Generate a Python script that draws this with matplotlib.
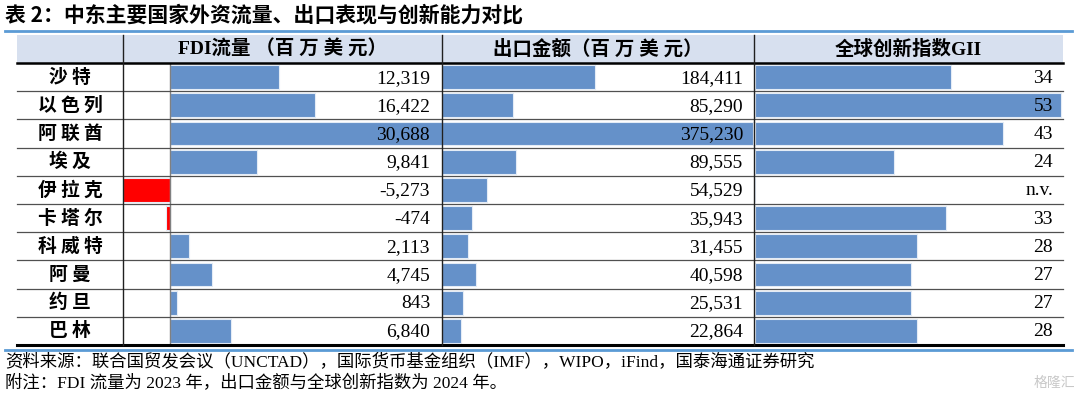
import numpy as np
import matplotlib.pyplot as plt

countries = ['沙特', '以色列', '阿联酋', '埃及', '伊拉克', '卡塔尔', '科威特', '阿曼', '约旦', '巴林']
fdi = [12319, 16422, 30688, 9841, -5273, -474, 2113, 4745, 843, 6840]
exports = [184411, 85290, 375230, 89555, 54529, 35943, 31455, 40598, 25531, 22864]
gii = [34, 53, 43, 24, None, 33, 28, 27, 27, 28]
headers = ['FDI流量 （百 万 美 元）', '出口金额（百 万 美 元）', '全球创新指数GII']

title = '表 2：中东主要国家外资流量、出口表现与创新能力对比'
note1 = '资料来源：联合国贸发会议（UNCTAD），国际货币基金组织（IMF），WIPO，iFind，国泰海通证券研究'
note2 = '附注：FDI 流量为 2023 年，出口金额与全球创新指数为 2024 年。'

W, H = 1080, 399
BLUE = '#6591C9'
MIX = ['Liberation Serif', 'Noto Sans CJK SC']
CJK = ['Noto Sans CJK SC', 'DejaVu Sans']

fig = plt.figure(figsize=(W / 100, H / 100), dpi=100)

def box(x0, y0, x1, y1):
    return [x0 / W, 1 - y1 / H, (x1 - x0) / W, (y1 - y0) / H]

top, bottom = 63, 345
n = len(countries)
rh = (bottom - top) / n
ypos = np.arange(n)
cols = [123, 442, 754, 1063]

# bar columns, each its own axes
def bar_axes(x0, x1, xlim):
    a = fig.add_axes(box(x0, top, x1, bottom))
    a.set_xlim(*xlim)
    a.set_ylim(n - 0.5, -0.5)
    a.axis('off')
    return a

ax1 = bar_axes(cols[0], cols[1], (-5300, 30700))
ax1.barh(ypos, fdi, height=0.84, color=[BLUE if v >= 0 else '#FF0000' for v in fdi],
         edgecolor='#E4ECF6', linewidth=0.8)
ax1.axvline(0, color='#808080', lw=1)

ax2 = bar_axes(cols[1], cols[2], (0, 376000))
ax2.barh(ypos, exports, height=0.84, color=BLUE, edgecolor='#E4ECF6', linewidth=0.8)

ax3 = bar_axes(cols[2] + 1, cols[3], (0, 53.3))
gv = [v if v is not None else 0 for v in gii]
ax3.barh(ypos, gv, height=0.84, color=BLUE, edgecolor='#E4ECF6', linewidth=0.8)

# overlay in pixel coordinates: grid, header, text
ax = fig.add_axes([0, 0, 1, 1], zorder=5)
ax.set_xlim(0, W)
ax.set_ylim(H, 0)
ax.axis('off')
ax.patch.set_alpha(0)

ax.text(5, 15, title, fontsize=15, fontweight='bold', family=CJK, va='center', ha='left')
ax.plot([5, 1072], [30.5, 30.5], color='#5B9BD5', lw=2)
ax.add_patch(plt.Rectangle((17, 35), cols[3] - 17, top - 35, facecolor='#D7E0EF',
                           edgecolor='none', zorder=0))
for i, h in enumerate(headers):
    ax.text((cols[i] + cols[i + 1]) / 2, 49.5, h, fontsize=14, fontweight='bold',
            family=MIX, ha='center', va='center')

for i in range(1, n):
    y = top + i * rh
    ax.plot([17, cols[3]], [y, y], color='#505050', lw=0.9)
ax.plot([17, cols[3]], [top, top], color='black', lw=1.8)
ax.plot([17, cols[3]], [bottom, bottom], color='black', lw=2.2)
ax.plot([5, 1072], [349.5, 349.5], color='#5B9BD5', lw=2)
for x in cols[:3]:
    ax.plot([x, x], [35, bottom], color='#202020', lw=1)

for i, c in enumerate(countries):
    yc = top + (i + 0.5) * rh
    ax.text(70, yc, ' '.join(c), fontsize=13.5, fontweight='bold', family=CJK,
            ha='center', va='center')
    ax.text(430, yc + 1, f'{fdi[i]:,}', fontsize=14, family=MIX, ha='right', va='center')
    ax.text(743, yc + 1, f'{exports[i]:,}', fontsize=14, family=MIX, ha='right', va='center')
    g = 'n.v.' if gii[i] is None else str(gii[i])
    ax.text(1053, yc + 1, g, fontsize=14, family=MIX, ha='right', va='center')

ax.text(5, 362, note1, fontsize=12.5, family=MIX, ha='left', va='center')
ax.text(5, 384, note2, fontsize=12.5, family=MIX, ha='left', va='center')
ax.text(1075, 383, '格隆汇', fontsize=10, family=CJK, ha='right', va='center', color='#C8C8C8')

fig.savefig('out.png', dpi=100)
